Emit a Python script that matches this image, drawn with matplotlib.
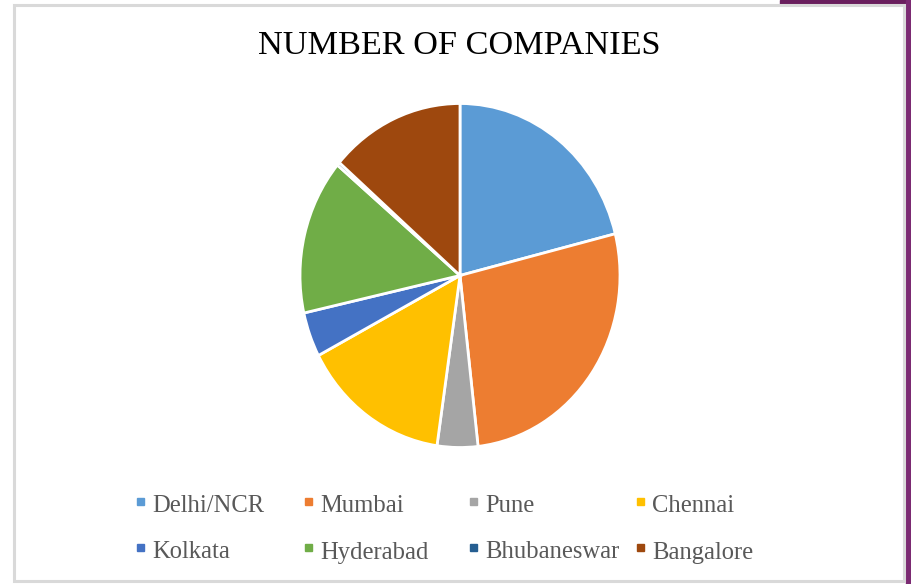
import matplotlib
matplotlib.use('Agg')
import matplotlib.pyplot as plt
from matplotlib.patches import Rectangle

# 都市別の企業数 (画像から読み取った割合)
cities = ['Delhi/NCR', 'Mumbai', 'Pune', 'Chennai',
          'Kolkata', 'Hyderabad', 'Bhubaneswar', 'Bangalore']
companies = [21.1, 27.1, 4.1, 15.0, 4.2, 14.6, 0.3, 13.6]
colors = ['#5B9BD5', '#ED7D31', '#A5A5A5', '#FFC000',
          '#4472C4', '#70AD47', '#255E91', '#9E480E']

W, H = 912, 584
fig = plt.figure(figsize=(W / 100, H / 100), dpi=100)
fig.patch.set_facecolor('white')


def px(x, y):
    # ピクセル座標(左上原点) -> figure座標
    return x / W, 1 - y / H


# 背景の枠と右上の紫の帯
purple = '#7B2A72'
fig.patches.append(Rectangle((780 / W, 1 - 4 / H), 132 / W, 4 / H,
                             transform=fig.transFigure, color='#6A1F5E', zorder=0))
fig.patches.append(Rectangle((906 / W, 0), 6 / W, 1, transform=fig.transFigure,
                             color=purple, zorder=0))
fig.patches.append(Rectangle((14.5 / W, 1 - 580.5 / H), 890 / W, 576 / H,
                             transform=fig.transFigure, facecolor='white',
                             edgecolor='#D9D9D9', linewidth=2.2, zorder=1))

# 円グラフ (元画像は縦に少し伸びているので aspect を固定しない)
cx, cy, rx, ry = 460, 275.5, 160, 172
ax = fig.add_axes([(cx - rx) / W, 1 - (cy + ry) / H, 2 * rx / W, 2 * ry / H])
ax.pie(companies, colors=colors, startangle=90, counterclock=False,
       wedgeprops=dict(edgecolor='white', linewidth=2.0))
ax.set_aspect('auto')
ax.set_xlim(-1, 1)
ax.set_ylim(-1, 1)
ax.set_zorder(2)

# タイトル
tx, ty = px(459, 54)
fig.text(tx, ty, 'NUMBER OF COMPANIES', family='Liberation Serif',
         fontsize=24.7, color='#000000', ha='center', va='baseline')

# 凡例 (Excel風に手で配置)
marker_x = [137, 305, 470, 637]
row_y = [501, 547.5]
for i, (name, col) in enumerate(zip(cities, colors)):
    c, r = i % 4, i // 4
    mx, my = px(marker_x[c], row_y[r] + 3.5)
    fig.patches.append(Rectangle((mx, my), 7 / W, 7 / H, transform=fig.transFigure,
                                 color=col, zorder=3))
    lx, ly = px(marker_x[c] + 15, row_y[r] + 11)
    fig.text(lx, ly, name, family='Liberation Serif', fontsize=17.7,
             color='#595959', ha='left', va='baseline')

fig.savefig('out.png', dpi=100)
